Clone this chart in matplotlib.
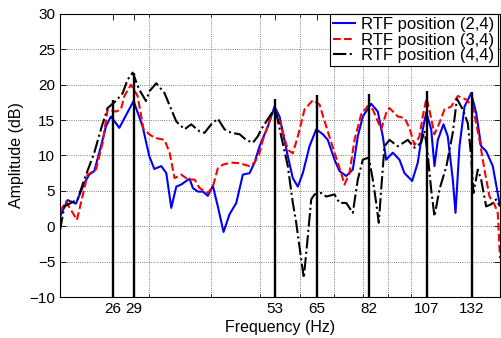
import matplotlib
matplotlib.use('Agg')
import matplotlib.pyplot as plt
from matplotlib.ticker import FixedLocator, NullFormatter

# frequency axis values (Hz) and amplitudes (dB)
blue_f = [20.0, 20.70, 21.50, 22.34, 22.86, 23.39, 24.11, 24.67, 25.24, 26.23, 28.00, 29.18, 30.09, 30.79,
          31.79, 32.53, 33.28, 34.05, 34.84, 35.64, 36.19, 36.74, 37.59, 38.46, 39.35, 40.26, 41.19, 42.28,
          43.46, 44.82, 46.19, 47.63, 48.73, 49.86, 51.79, 53.40, 54.64, 56.75, 58.07, 59.41, 60.79, 62.68,
          64.64, 66.62, 68.16, 70.29, 71.92, 74.15, 76.43, 78.20, 80.01, 83.15, 85.70, 87.69, 89.06, 91.80,
          94.66, 96.85, 100.33, 102.93, 105.32, 107.0, 109.44, 111.11, 112.81, 115.80, 118.09, 120.83,
          122.34, 124.59, 127.48, 131.45, 134.50, 137.61, 140.80, 145.12, 149.63]
blue_db = [1.4, 3.7, 3.2, 6.1, 7.3, 7.8, 11.3, 14.1, 15.5, 13.9, 17.7, 14.1, 9.9, 8.1,
           8.5, 7.5, 2.6, 5.6, 5.9, 6.4, 6.7, 5.4, 4.9, 4.9, 4.3, 5.7, 2.8, -0.8,
           1.7, 3.3, 7.3, 7.5, 9.0, 11.3, 14.1, 16.9, 15.5, 9.9, 6.8, 5.6, 7.5, 11.3,
           13.7, 13.0, 12.2, 9.4, 7.8, 7.1, 8.0, 12.7, 15.5, 17.3, 16.2, 12.7, 9.4, 10.4,
           9.4, 7.5, 6.4, 9.0, 13.7, 16.1, 13.7, 8.5, 12.2, 14.4, 12.7, 6.6,
           1.9, 11.3, 16.9, 18.8, 16.0, 11.3, 10.6, 8.5, 3.3]

red_f = [20.0, 20.54, 21.60, 22.00, 22.68, 23.56, 24.30, 24.86, 25.82, 26.42, 26.84, 27.66, 28.52, 29.31,
         30.09, 30.83, 32.27, 33.02, 33.79, 34.84, 35.91, 37.03, 37.88, 39.35, 40.26, 41.19, 42.15, 43.80,
         45.49, 47.63, 48.73, 49.86, 50.62, 52.60, 53.82, 55.06, 56.75, 58.07, 59.41, 61.27, 63.64, 65.62,
         67.67, 70.29, 72.47, 73.58, 75.28, 77.03, 79.42, 81.86, 83.76, 87.05, 89.06, 90.42, 93.92, 96.84,
         99.06, 101.35, 103.70, 105.3, 107.1, 108.5, 111.11, 113.67, 116.31, 119.93, 123.62, 128.47,
         132.41, 136.53, 139.70, 142.93, 146.24, 148.47, 150.0]
red_db = [2.1, 3.5, 0.9, 3.3, 7.3, 8.0, 11.8, 16.5, 16.2, 16.5, 18.4, 20.0, 18.4, 13.7,
          13.0, 12.5, 12.2, 10.4, 6.8, 7.3, 6.6, 6.6, 5.4, 4.7, 5.6, 8.2, 8.7, 9.0,
          8.9, 8.5, 9.0, 10.4, 12.2, 15.5, 16.2, 14.1, 10.8, 10.3, 12.7, 16.5, 17.8, 17.2,
          14.1, 10.4, 7.5, 5.9, 7.5, 12.2, 15.8, 17.0, 16.5, 13.7, 16.0, 16.7, 15.5, 15.3,
          13.9, 11.5, 12.7, 15.5, 18.1, 16.5, 13.0, 14.6, 16.5, 16.9, 18.4, 17.9,
          16.9, 12.2, 8.0, 4.2, 3.1, 1.9, -4.5]

black_f = [20.0, 20.39, 21.01, 21.67, 22.34, 23.39, 24.11, 24.86, 25.82, 26.63, 27.24, 27.88, 28.74, 29.63,
           30.13, 31.07, 32.27, 33.28, 34.05, 35.37, 36.46, 37.88, 38.75, 39.96, 41.19, 42.47, 43.80, 45.50,
           46.91, 48.35, 49.47, 50.25, 52.19, 53.57, 55.07, 56.75, 58.07, 58.98, 60.35, 61.07, 62.20, 63.18,
           64.14, 66.14, 67.67, 70.29, 71.92, 74.15, 76.43, 78.20, 80.01, 82.24, 83.76, 85.07, 86.09, 87.04,
           88.37, 90.42, 93.92, 98.32, 101.38, 104.53, 106.13, 107.60, 109.43, 111.11, 113.67, 117.36,
           120.81, 123.16, 126.47, 129.40, 131.44, 132.83, 135.47, 137.59, 140.78, 144.05, 147.38, 150.0]
black_db = [-0.5, 2.8, 3.3, 3.8, 6.6, 10.4, 13.7, 16.7, 17.7, 18.8, 20.7, 21.7, 19.3, 17.7,
            19.1, 20.2, 18.8, 16.5, 14.8, 13.7, 14.4, 13.4, 13.2, 14.4, 15.2, 13.7, 13.2, 13.0,
            12.2, 11.8, 12.7, 13.7, 15.5, 16.7, 12.7, 8.5, 3.3, 0.5, -4.7, -7.3, -1.4, 3.8,
            4.5, 4.7, 4.2, 4.5, 3.3, 3.3, 1.9, 6.6, 9.4, 9.7, 6.6, 3.3, 0.5, 5.2,
            11.3, 12.2, 11.3, 12.2, 11.1, 11.8, 13.5, 10.5, 5.2, 1.4, 5.2, 8.5,
            13.2, 18.0, 16.5, 14.6, 9.9, 4.7, 8.0, 6.6, 2.8, 3.1, 3.8, 2.8]

# resonance markers
res_f = [25.47, 28.00, 53.40, 64.73, 82.24, 107.25, 131.79]
res_db = [17.9, 21.7, 18.0, 18.6, 18.7, 19.1, 19.0]
res_labels = ['26', '29', '53', '65', '82', '107', '132']

grid_f = [30, 40, 50, 60, 70, 80, 90, 100]
y_ticks = [-10, -5, 0, 5, 10, 15, 20, 25, 30]

plt.rcParams['font.family'] = ['Liberation Sans', 'DejaVu Sans']

fig = plt.figure(figsize=(5.01, 3.38), dpi=100)
ax = fig.add_axes([0.12, 0.121, 0.878, 0.838])

ax.plot(blue_f, blue_db, color='blue', lw=1.5, ls='-', label='RTF position (2,4)')
ax.plot(red_f, red_db, color='red', lw=1.5, ls='--', label='RTF position (3,4)')
ax.plot(black_f, black_db, color='black', lw=1.5, ls='-.', label='RTF position (4,4)')
ax.vlines(res_f, -10, res_db, color='black', lw=1.7, zorder=3)

ax.set_xscale('log')
ax.set_xlim(20, 150)
ax.set_ylim(-10, 30)

ax.xaxis.set_major_locator(FixedLocator(res_f))
ax.set_xticklabels(res_labels)
ax.xaxis.set_minor_locator(FixedLocator(grid_f))
ax.xaxis.set_minor_formatter(NullFormatter())
ax.set_yticks(y_ticks)

ax.grid(False)
for f in grid_f:
    ax.axvline(f, color='#555555', ls=':', lw=0.6, zorder=0)
for y in y_ticks[1:-1]:
    ax.axhline(y, color='#555555', ls=':', lw=0.6, zorder=0)

ax.tick_params(which='both', direction='in', top=True, right=True, labelsize=11, width=0.6)
ax.tick_params(which='major', length=4)
ax.tick_params(which='minor', length=2.5)
for s in ax.spines.values():
    s.set_linewidth(0.8)

ax.set_xlabel('Frequency (Hz)', fontsize=11.5, labelpad=3)
ax.set_ylabel('Amplitude (dB)', fontsize=11.5)

leg = ax.legend(loc='upper right', bbox_to_anchor=(0.995, 1.0), fontsize=12, frameon=True, fancybox=False,
                edgecolor='black', framealpha=1, borderaxespad=0, labelspacing=0.02, borderpad=0.2,
                handlelength=1.3, handletextpad=0.4)
leg.get_frame().set_linewidth(0.8)

fig.savefig('out.png', dpi=100)
